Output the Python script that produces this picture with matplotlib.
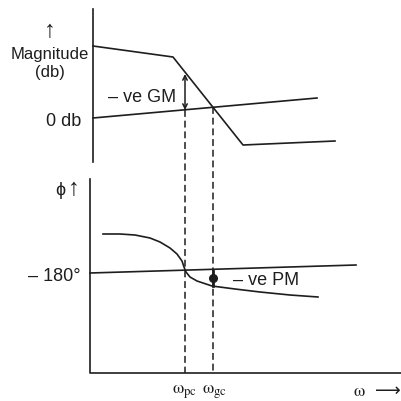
import numpy as np
import matplotlib.pyplot as plt

plt.rcParams["font.family"] = ["Liberation Sans", "DejaVu Sans"]
plt.rcParams["mathtext.fontset"] = "stix"

INK = "#1e1e1e"

# picture coordinates (pixels, y pointing down)
mag_x = [93, 173, 243, 335]
mag_y = [47, 58, 146, 142]
zero_db_x = [93, 317]
zero_db_y = [119, 99]

phase_x = [103, 120, 135, 150, 160, 170, 177, 182, 184, 186, 190, 197, 212, 235, 260, 290, 318]
phase_y = [235, 235, 236, 239, 243, 249, 255, 262, 268, 273, 278, 282, 287, 290, 293, 296, 298]
m180_x = [90, 356]
m180_y = [274, 266]

w_pc, w_gc = 185, 213
gm_top, gm_bottom = 75, 111
pm_top, pm_bottom, pm_dot = 272, 287, 279

fig = plt.figure(figsize=(4.01, 4.02), dpi=100)
ax = fig.add_axes([0, 0, 1, 1])
ax.set_xlim(0, 401)
ax.set_ylim(402, 0)
ax.axis("off")

lw = 1.2
# axes of the two panels
ax.plot([93, 93], [10, 163], color=INK, lw=lw)
ax.plot([90, 90, 401], [180, 374, 374], color=INK, lw=lw)

# magnitude plot
ax.plot(mag_x, mag_y, color=INK, lw=lw)
ax.plot(zero_db_x, zero_db_y, color=INK, lw=lw)

# phase plot
ax.plot(phase_x, phase_y, color=INK, lw=lw)
ax.plot(m180_x, m180_y, color=INK, lw=lw)

# crossover verticals
ax.plot([w_pc, w_pc], [gm_bottom, 374], color=INK, lw=1.1, ls=(0, (4.5, 2.5)))
ax.plot([w_gc, w_gc], [108, 374], color=INK, lw=1.1, ls=(0, (4.5, 2.5)))

# gain margin arrow
ax.annotate("", xy=(w_pc, gm_top), xytext=(w_pc, gm_bottom),
            arrowprops=dict(arrowstyle="<->", color=INK, lw=1.1,
                            mutation_scale=8, shrinkA=0, shrinkB=0))
# phase margin marker
ax.plot([w_gc, w_gc], [pm_top, pm_bottom], color=INK, lw=2)
ax.plot([w_gc], [pm_dot], marker="o", ms=5.5, color=INK)

fs = 13
ax.text(50, 31, "↑", fontsize=17, ha="center", va="center", color=INK)
ax.text(50, 55, "Magnitude", fontsize=12, ha="center", va="center", color=INK)
ax.text(50, 73, "(db)", fontsize=12, ha="center", va="center", color=INK)
ax.text(81, 122, "0 db", fontsize=fs, ha="right", va="center", color=INK)
ax.text(108, 97, "– ve GM", fontsize=fs, ha="left", va="center", color=INK)
ax.text(65, 191, "ϕ", fontsize=fs, ha="right", va="center", color=INK)
ax.text(74, 189, "↑", fontsize=17, ha="center", va="center", color=INK)
ax.text(81, 277, "– 180°", fontsize=fs, ha="right", va="center", color=INK)
ax.text(233, 281, "– ve PM", fontsize=fs, ha="left", va="center", color=INK)
ax.text(w_pc, 392, r"$\mathrm{\omega}_{\rm pc}$", fontsize=fs, ha="center", va="center", color=INK)
ax.text(w_gc + 2, 392, r"$\mathrm{\omega}_{\rm gc}$", fontsize=fs, ha="center", va="center", color=INK)
ax.text(359, 392, r"$\mathrm{\omega}$", fontsize=fs, ha="center", va="center", color=INK)
ax.text(388, 391, "⟶", fontsize=fs, ha="center", va="center", color=INK,
        family="DejaVu Sans")

fig.savefig("out.png", dpi=100, facecolor="white")
